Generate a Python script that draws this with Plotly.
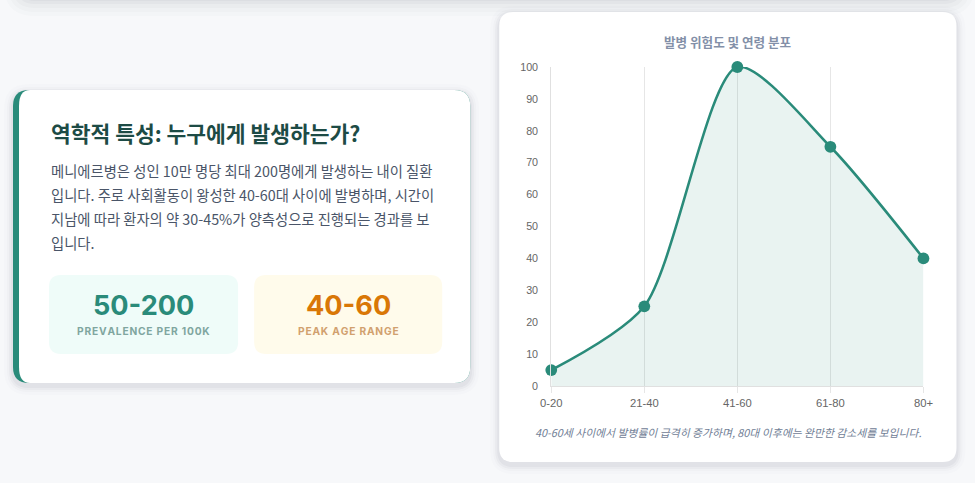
import plotly.graph_objects as go

W, H = 975, 483

# chart data
age_groups = ["0-20", "21-40", "41-60", "61-80", "80+"]
risk_values = [5, 25, 100, 75, 40]
y_ticks = [0, 10, 20, 30, 40, 50, 60, 70, 80, 90, 100]

# text content
card_title = "역학적 특성: 누구에게 발생하는가?"
card_lines = [
    "메니에르병은 성인 10만 명당 최대 200명에게 발생하는 내이 질환",
    "입니다. 주로 사회활동이 왕성한 40-60대 사이에 발병하며, 시간이",
    "지남에 따라 환자의 약 30-45%가 양측성으로 진행되는 경과를 보",
    "입니다.",
]
stat_values = ["50-200", "40-60"]
stat_labels = ["PREVALENCE PER 100K", "PEAK AGE RANGE"]
chart_title = "발병 위험도 및 연령 분포"
chart_caption = "40-60세 사이에서 발병률이 급격히 증가하며, 80대 이후에는 완만한 감소세를 보입니다."

TEAL = "#2a8b7a"
KR = "Noto Sans CJK KR, Noto Sans, sans-serif"

# the page ends up slightly shrunk and inset, so lay things out against that
SX, SY, OX, OY = 0.978, 0.975, 12, 7
FS = 1 / 0.977


def px(x):
    return ((x - OX) / SX) / W


def py(y):
    return 1 - ((y - OY) / SY) / H


def rounded(x0, y0, x1, y1, r, rl=None):
    # rounded rectangle path in paper coords, built from screen pixel coords
    rlx, rly = (r, r) if rl is None else rl
    pts = [
        ("M", [(x0 + rlx, y0)]),
        ("L", [(x1 - r, y0)]),
        ("Q", [(x1, y0), (x1, y0 + r)]),
        ("L", [(x1, y1 - r)]),
        ("Q", [(x1, y1), (x1 - r, y1)]),
        ("L", [(x0 + rlx, y1)]),
        ("Q", [(x0, y1), (x0, y1 - rly)]),
        ("L", [(x0, y0 + rly)]),
        ("Q", [(x0, y0), (x0 + rlx, y0)]),
    ]
    out = ""
    for cmd, cs in pts:
        out += cmd + " ".join(f"{px(a):.5f},{py(b):.5f}" for a, b in cs) + " "
    return out + "Z"


shapes = []


def card(x0, y0, x1, y1, r, fill, shadow=True):
    if shadow:
        for i, op in [(9, 0.012), (6, 0.02), (4, 0.03), (2, 0.035)]:
            shapes.append(dict(type="path", xref="paper", yref="paper", layer="below",
                               path=rounded(x0 - i, y0 - i + 3, x1 + i, y1 + i + 3, r + i),
                               fillcolor=f"rgba(30,40,60,{op})", line=dict(width=0)))
    shapes.append(dict(type="path", xref="paper", yref="paper", layer="below",
                       path=rounded(x0, y0, x1, y1, r), fillcolor=fill, line=dict(width=0)))


# page background, stretched past the figure edges
shapes.append(dict(type="rect", xref="paper", yref="paper", layer="below",
                   x0=px(-40), x1=px(1020), y0=py(-40), y1=py(530),
                   fillcolor="#f7f8fa", line=dict(width=0)))
# soft shadow left by the card above the viewport
for i, op in [(17, 0.015), (13, 0.02), (9, 0.025), (5, 0.03), (2, 0.03)]:
    shapes.append(dict(type="path", xref="paper", yref="paper", layer="below",
                       path=rounded(22 - i, -40, 958 + i, i, 14 + i),
                       fillcolor=f"rgba(30,40,60,{op})", line=dict(width=0)))

# left card with teal left border
card(14, 91, 471, 384, 16, TEAL)
shapes.append(dict(type="path", xref="paper", yref="paper", layer="below",
                   path=rounded(20, 91, 471, 384, 16, rl=(11, 16)),
                   fillcolor="white", line=dict(width=0)))
# stat boxes
card(50, 276, 239, 355, 12, "#effcf9", shadow=False)
card(255, 276, 443, 355, 12, "#fffbeb", shadow=False)
# right chart card
card(500, 13, 957, 463, 14, "white")

HAIR = "\u200a"
annotations = [
    dict(x=px(50), y=py(133), text=f"<b>{card_title}</b>", xanchor="left", yanchor="middle",
         font=dict(family=KR, size=21 * FS, color="#1d4b45")),
]
for i, line in enumerate(card_lines):
    annotations.append(dict(x=px(50), y=py(171 + i * 24.2), text=line, xanchor="left",
                            yanchor="middle", font=dict(family=KR, size=14 * FS, color="#4a5568")))
for cx, val, lab, c1, c2 in [(144.5, stat_values[0], stat_labels[0], TEAL, "#7fa69f"),
                             (349, stat_values[1], stat_labels[1], "#d97706", "#d1a06e")]:
    annotations.append(dict(x=px(cx), y=py(306), text=f"<b>{val}</b>", xanchor="center",
                            yanchor="middle",
                            font=dict(family="Inter, sans-serif", size=26.5 * FS, color=c1)))
    annotations.append(dict(x=px(cx), y=py(332), text="<b>" + HAIR.join(lab) + "</b>",
                            xanchor="center", yanchor="middle",
                            font=dict(family="Inter, sans-serif", size=10 * FS, color=c2)))
annotations.append(dict(x=px(729), y=py(42), text=f"<b>{chart_title}</b>", xanchor="center",
                        yanchor="middle", font=dict(family=KR, size=12.3 * FS, color="#8390a8")))
annotations.append(dict(x=px(729), y=py(433), text=f"<i>{chart_caption}</i>", xanchor="center",
                        yanchor="middle", font=dict(family=KR, size=10.6 * FS, color="#718096")))
for a in annotations:
    a.update(xref="paper", yref="paper", showarrow=False)

fig = go.Figure()
fig.add_trace(go.Scatter(
    x=list(range(len(age_groups))), y=risk_values, mode="lines+markers",
    line=dict(color=TEAL, width=2.5 * FS, shape="spline", smoothing=0.75),
    marker=dict(color=TEAL, size=11.5 * FS),
    fill="tozeroy", fillcolor="rgba(42,139,122,0.1)",
    cliponaxis=False, hoverinfo="x+y",
))

fig.update_layout(
    width=W, height=H,
    margin=dict(l=0, r=0, t=0, b=0, pad=0),
    paper_bgcolor="#f7f8fa", plot_bgcolor="rgba(0,0,0,0)",
    showlegend=False,
    shapes=shapes, annotations=annotations,
    xaxis=dict(domain=[px(552), px(924)], range=[0, len(age_groups) - 1],
               tickvals=list(range(len(age_groups))), ticktext=age_groups,
               showgrid=True, gridcolor="#e6e6e6", gridwidth=1,
               showline=True, linecolor="#e0e0e0", zeroline=False,
               ticks="outside", ticklen=6 * FS, tickcolor="#e6e6e6",
               tickfont=dict(family="Liberation Sans, Arial", size=11 * FS, color="#666")),
    yaxis=dict(domain=[py(387), py(68)], range=[0, 100],
               tickvals=y_ticks, showgrid=False, zeroline=False,
               showline=True, linecolor="#e0e0e0",
               ticks="", ticklabelstandoff=10,
               tickfont=dict(family="Liberation Sans, Arial", size=10.5 * FS, color="#666")),
)

# drop the default page margin so the figure sits at the window's corner
fig.write_html("out.html", config={"displayModeBar": False},
               post_script="document.body.style.margin='0';document.body.style.overflow='hidden';")
